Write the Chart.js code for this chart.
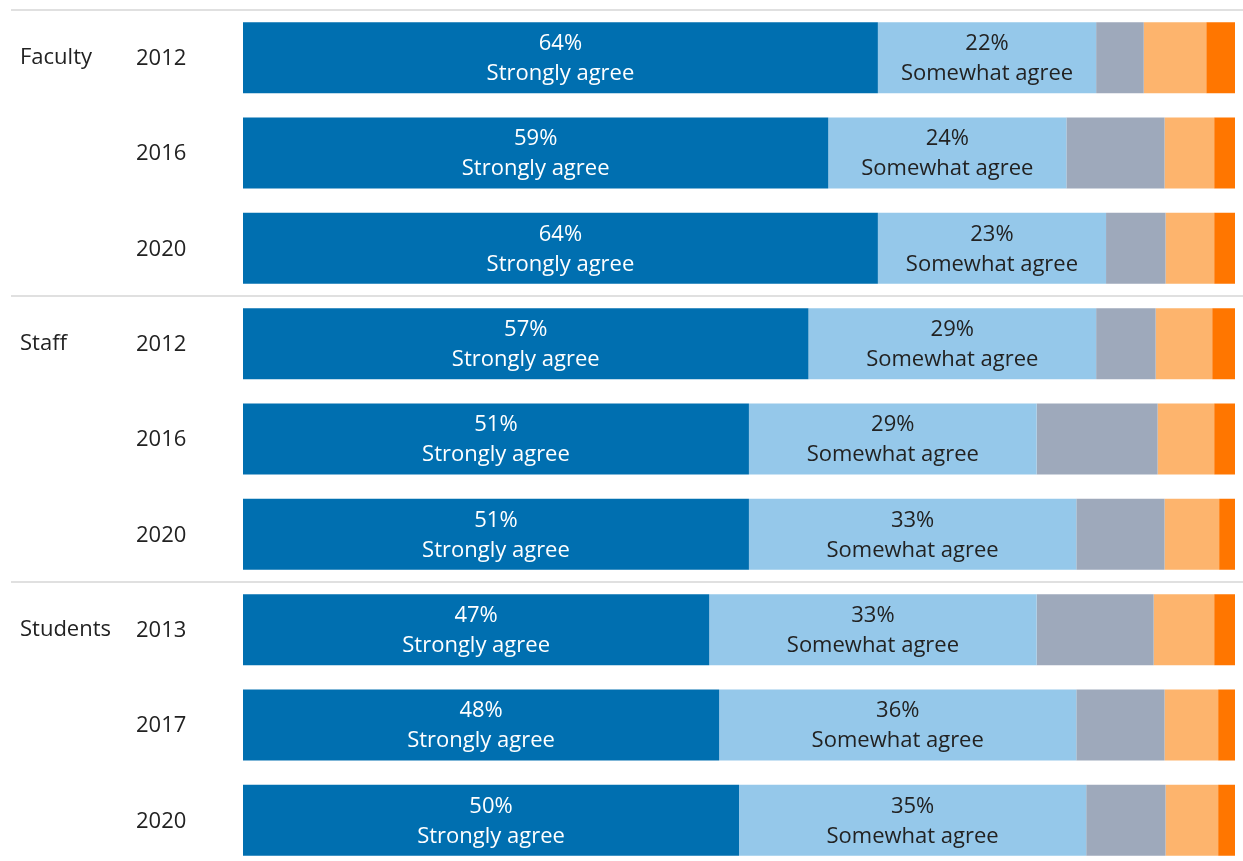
<!DOCTYPE html>
<html>
<head>
<meta charset="utf-8">
<script src="https://cdn.jsdelivr.net/npm/chart.js@4"></script>
<style>
  html, body { margin: 0; padding: 0; background: #fff; overflow: hidden; }
  #wrap { width: 1243px; height: 880px; position: relative; }
</style>
</head>
<body>
<div id="wrap"><canvas id="c"></canvas></div>
<script>
// Survey responses by group and year (percent of respondents)
const groups = ['Faculty', 'Faculty', 'Faculty', 'Staff', 'Staff', 'Staff', 'Students', 'Students', 'Students'];
const years = ['2012', '2016', '2020', '2012', '2016', '2020', '2013', '2017', '2020'];

const stronglyAgree    = [64, 59, 64, 57, 51, 51, 47, 48, 50];
const somewhatAgree    = [22, 24, 23, 29, 29, 33, 33, 36, 35];
const neutral          = [4.8, 9.9, 6.0, 6.0, 12.2, 8.9, 11.8, 8.9, 8.0];
const somewhatDisagree = [6.3, 5.0, 4.9, 5.7, 5.7, 5.5, 6.1, 5.4, 5.3];
const stronglyDisagree = [2.9, 2.1, 2.1, 2.3, 2.1, 1.6, 2.1, 1.7, 1.7];

const seriesNames = ['Strongly agree', 'Somewhat agree', 'Neither agree nor disagree', 'Somewhat disagree', 'Strongly disagree'];
const seriesColors = ['#006fb0', '#95c8ea', '#9ea9bb', '#fdb46d', '#ff7600'];
const seriesData = [stronglyAgree, somewhatAgree, neutral, somewhatDisagree, stronglyDisagree];

const FONT = '"Open Sans", "Noto Sans", sans-serif';
const rowKeys = years.map((y, i) => i);

// Draws group separators, group names, years and in-bar value labels
const annotate = {
  id: 'annotate',
  afterDatasetsDraw(chart) {
    const ctx = chart.ctx;
    const ys = chart.scales.y;
    const band = ys.getPixelForValue(1) - ys.getPixelForValue(0);

    ctx.save();
    // separators above each group
    ctx.strokeStyle = '#d6d6d6';
    ctx.lineWidth = 1.5;
    groups.forEach((g, i) => {
      if (i === 0 || groups[i - 1] !== g) {
        const yy = ys.getPixelForValue(i) - band / 2;
        ctx.beginPath();
        ctx.moveTo(11, yy);
        ctx.lineTo(chart.width, yy);
        ctx.stroke();
      }
    });
    const lastY = ys.getPixelForValue(groups.length - 1) + band / 2;
    ctx.beginPath();
    ctx.moveTo(11, lastY);
    ctx.lineTo(chart.width, lastY);
    ctx.stroke();

    // row labels
    ctx.font = '22px ' + FONT;
    ctx.fillStyle = '#222';
    ctx.textBaseline = 'middle';
    ctx.textAlign = 'left';
    years.forEach((yr, i) => {
      const yy = ys.getPixelForValue(i);
      ctx.fillText(yr, 136, yy + 1);
      if (i === 0 || groups[i - 1] !== groups[i]) {
        ctx.fillText(groups[i], 20, yy);
      }
    });

    // value labels inside the two agree segments
    ctx.textAlign = 'center';
    [0, 1].forEach(di => {
      const meta = chart.getDatasetMeta(di);
      ctx.fillStyle = di === 0 ? '#ffffff' : '#222222';
      meta.data.forEach((el, i) => {
        const cx = (el.x + el.base) / 2;
        const v = seriesData[di][i];
        ctx.fillText(v + '%', cx, el.y - 14);
        ctx.fillText(seriesNames[di], cx, el.y + 16);
      });
    });
    ctx.restore();
  }
};

new Chart(document.getElementById('c'), {
  type: 'bar',
  data: {
    labels: rowKeys,
    datasets: seriesData.map((d, i) => ({
      label: seriesNames[i],
      data: d,
      backgroundColor: seriesColors[i],
      borderWidth: 0,
      barPercentage: 0.745,
      categoryPercentage: 1
    }))
  },
  options: {
    indexAxis: 'y',
    responsive: true,
    maintainAspectRatio: false,
    animation: false,
    layout: { padding: { left: 243, right: 8, top: 10, bottom: 12 } },
    plugins: { legend: { display: false }, tooltip: { enabled: false } },
    scales: {
      x: { stacked: true, min: 0, max: 100, display: false },
      y: { stacked: true, display: false, offset: true }
    }
  },
  plugins: [annotate]
});
</script>
</body>
</html>
